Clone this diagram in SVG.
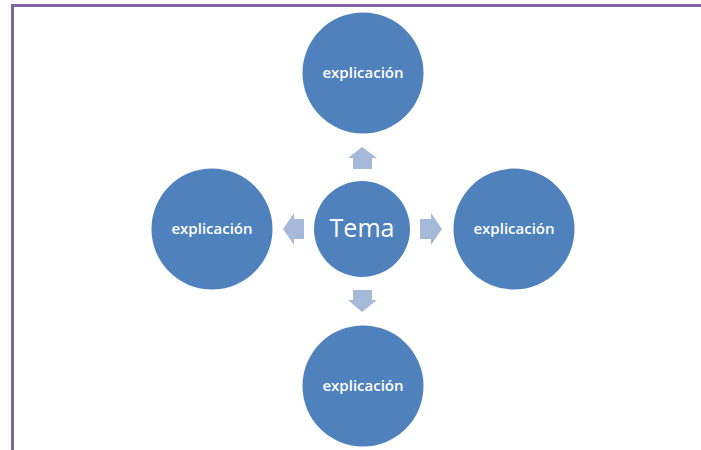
<svg xmlns="http://www.w3.org/2000/svg" width="701" height="450" viewBox="0 0 701 450">
<style>
.node{fill:#4F81BD;}
.lbl{fill:#FFFFFF;font-family:"Open Sans","Liberation Sans",sans-serif;text-anchor:middle;font-size:15px;font-weight:600;}
.big{font-size:25px;font-weight:400;}
.arr{fill:#A7B9D9;}
.frame{stroke:#8064A2;stroke-width:3;fill:none;}
</style>
<rect width="701" height="450" fill="#FFFFFF"/>
<path class="frame" d="M12.5,450 V5.5 H701"/>
<g id="connectors">
<polygon class="arr" points="362,147 377,158 372,158 372,169 353,169 353,158 348,158"/>
<polygon class="arr" points="362,312 377,300 372,300 372,290 353,290 353,300 348,300"/>
<polygon class="arr" points="283,229 294,213 294,219 304,219 304,239 294,239 294,245"/>
<polygon class="arr" points="442,229 431,213 431,219 420,219 420,239 431,239 431,245"/>
</g>
<g id="center">
<circle class="node" cx="362" cy="229" r="48"/>
<text class="lbl big" x="362" y="237">Tema</text>
</g>
<g id="top">
<circle class="node" cx="363" cy="73" r="60.5"/>
<text class="lbl" x="363" y="78">explicación</text>
</g>
<g id="left">
<circle class="node" cx="212" cy="229" r="60.5"/>
<text class="lbl" x="212" y="234">explicación</text>
</g>
<g id="right">
<circle class="node" cx="514" cy="229" r="60.5"/>
<text class="lbl" x="514" y="234">explicación</text>
</g>
<g id="bottom">
<circle class="node" cx="363" cy="386" r="60.5"/>
<text class="lbl" x="363" y="391">explicación</text>
</g>
</svg>
